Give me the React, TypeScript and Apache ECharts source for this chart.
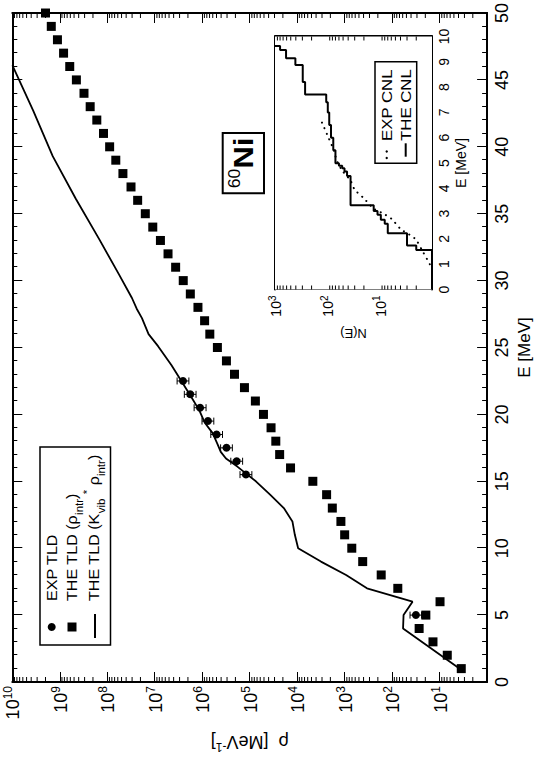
import React, { useEffect, useRef } from 'react';
import * as echarts from 'echarts';

const FONT = '"Liberation Sans", Arial, Helvetica, sans-serif';

// ---------- main panel: level density rho(E) of 60Ni ----------
// THE TLD (rho_intr) : squares
const SQUARE_E = [
  1, 2, 3, 4, 5, 6, 7, 8, 9, 10,
  11, 12, 13, 14, 15, 16, 17, 18, 19, 20,
  21, 22, 23, 24, 25, 26, 27, 28, 29, 30,
  31, 32, 33, 34, 35, 36, 37, 38, 39, 40,
  41, 42, 43, 44, 45, 46, 47, 48, 49, 50,
];
const SQUARE_RHO = [
  3.5, 6.9, 13.8, 27, 19.5, 9.8, 76, 170, 417, 708,
  1000, 1200, 1820, 2400, 4680, 1.38e4, 2.34e4, 2.82e4, 3.55e4, 5.13e4,
  7.59e4, 1.29e5, 2.09e5, 3.09e5, 4.79e5, 6.92e5, 8.91e5, 1.23e6, 1.78e6, 2.51e6,
  3.63e6, 5.25e6, 7.59e6, 1.1e7, 1.58e7, 2.29e7, 3.16e7, 4.68e7, 6.61e7, 8.91e7,
  1.2e8, 1.66e8, 2.29e8, 3.09e8, 4.47e8, 6.17e8, 8.32e8, 1.12e9, 1.51e9, 2.0e9,
];

// EXP TLD : circles with error bars
const EXP_E = [5, 15.5, 16.5, 17.5, 18.5, 19.5, 20.5, 21.5, 22.5];
const EXP_RHO = [31.6, 1.2e5, 1.88e5, 3.08e5, 4.98e5, 7.57e5, 1.11e6, 1.79e6, 2.54e6];
const EXP_LOW = [24, 9.0e4, 1.41e5, 2.32e5, 3.74e5, 5.7e5, 8.3e5, 1.35e6, 1.91e6];
const EXP_HIGH = [42, 1.6e5, 2.5e5, 4.1e5, 6.6e5, 1.01e6, 1.48e6, 2.38e6, 3.38e6];

// THE TLD (K_vib * rho_intr) : solid line
const LINE_E = [
  1.1, 4.0, 5.0, 6.0, 7.0, 8.0, 9.0, 10.0, 11.0, 12.0,
  13.0, 14.0, 15.0, 15.5, 16.1, 16.7, 17.2, 17.8, 18.6, 19.4,
  20.3, 21.3, 22.5, 23.7, 25.1, 26.0, 27.2, 27.9, 28.7, 30.5,
  33.1, 36.1, 39.3, 42.7, 46.1,
];
const LINE_RHO = [
  4.17, 58.9, 57.5, 37.2, 339, 933, 3160, 9550, 11200, 12600,
  19100, 37200, 74100, 1.12e5, 1.82e5, 3.16e5, 4.07e5, 4.79e5, 6.03e5, 8.91e5,
  1.15e6, 1.7e6, 2.75e6, 4.47e6, 8.51e6, 1.35e7, 1.86e7, 2.4e7, 3.02e7, 5.75e7,
  1.48e8, 4.57e8, 1.41e9, 3.63e9, 1.0e10,
];

// axis ranges / ticks
const E_MIN = 0, E_MAX = 50, E_STEP = 5;
const RHO_MIN = 1, RHO_MAX = 1e10;

// ---------- inset: cumulative number of levels N(E) ----------
const THE_CNL_E = [
  0, 1.56, 1.74, 2.22, 2.6, 2.76, 2.95, 3.1, 3.33, 4.49,
  4.66, 4.79, 4.89, 4.99, 5.5, 6.0, 6.5, 7.0, 7.4, 7.71,
  8.2, 8.87, 9.14, 9.47, 9.62,
];
const THE_CNL_N = [
  1, 2, 3, 7, 8, 9.5, 11, 13, 36, 42,
  47, 52, 60, 70, 77, 85, 92, 98, 105, 266,
  295, 408, 615, 800, 1000,
];
const EXP_CNL_E = [1.0, 1.5, 2.0, 2.4, 2.8, 3.0, 3.2, 3.6, 3.95, 4.3, 4.7, 5.1, 5.5, 6.0, 6.4, 6.8];
const EXP_CNL_N = [1.1, 1.5, 2.1, 4.0, 6.0, 8.5, 13, 20, 30, 36, 52, 66, 75, 95, 115, 140];

const IN_E_MIN = 0, IN_E_MAX = 10, IN_E_STEP = 1;
const IN_N_MIN = 1, IN_N_MAX = 1000;

// log minor tick values (2..9 x 10^n)
function logMinor(maxExp: number): number[] {
  const out: number[] = [];
  for (let n = 0; n < maxExp; n++) {
    for (let k = 2; k <= 9; k++) out.push(k * Math.pow(10, n));
  }
  return out;
}
const MAIN_MINOR = logMinor(10);
const INSET_MINOR = logMinor(3);

const BLACK = '#000';

function expLabel(v: number): string {
  const n = Math.round(Math.log10(v));
  if (n === 0) return '';
  return '{b|10}{s|' + n + '}';
}

function minorTickSeries(xi: number, yi: number, xMin: number, xMax: number, values: number[], len: number) {
  return {
    type: 'custom',
    xAxisIndex: xi,
    yAxisIndex: yi,
    silent: true,
    clip: false,
    z: 10,
    data: values.map((v) => [xMin, v]),
    renderItem: (_p: any, api: any) => {
      const v = api.value(1);
      const a = api.coord([xMin, v]);
      const b = api.coord([xMax, v]);
      return {
        type: 'group',
        children: [
          { type: 'line', shape: { x1: a[0], y1: a[1], x2: a[0] + len, y2: a[1] }, style: { stroke: BLACK, lineWidth: 1 } },
          { type: 'line', shape: { x1: b[0], y1: b[1], x2: b[0] - len, y2: b[1] }, style: { stroke: BLACK, lineWidth: 1 } },
        ],
      };
    },
  };
}

function valueAxis(grid: number, pos: string, min: number, max: number, step: number, minorSplit: number, major: number, minor: number, labels: any, extra: any = {}) {
  return {
    gridIndex: grid,
    type: 'value',
    position: pos,
    min,
    max,
    interval: step,
    axisLine: { show: true, onZero: false, lineStyle: { color: BLACK, width: 2 } },
    axisTick: { show: true, inside: true, length: major, lineStyle: { color: BLACK, width: 1 } },
    minorTick: { show: true, splitNumber: minorSplit, length: minor, lineStyle: { color: BLACK, width: 1 } },
    splitLine: { show: false },
    minorSplitLine: { show: false },
    axisLabel: labels,
    ...extra,
  };
}

function logAxis(grid: number, pos: string, min: number, max: number, major: number, labels: any, extra: any = {}) {
  return {
    gridIndex: grid,
    type: 'log',
    logBase: 10,
    position: pos,
    min,
    max,
    interval: 1,
    axisLine: { show: true, onZero: false, lineStyle: { color: BLACK, width: 2 } },
    axisTick: { show: true, inside: true, length: major, lineStyle: { color: BLACK, width: 1 } },
    minorTick: { show: false },
    splitLine: { show: false },
    axisLabel: labels,
    ...extra,
  };
}

export default function App() {
  const ref = useRef<HTMLDivElement>(null);

  useEffect(() => {
    if (!ref.current) return;
    const chart = echarts.init(ref.current, null, { renderer: 'svg', width: 761, height: 538 });

    const mainLogLabels = {
      show: true,
      margin: 4,
      color: BLACK,
      fontFamily: FONT,
      fontSize: 18,
      formatter: expLabel,
      rich: {
        b: { fontSize: 18, fontFamily: FONT, color: BLACK, lineHeight: 20, verticalAlign: 'bottom' },
        s: { fontSize: 12, fontFamily: FONT, color: BLACK, lineHeight: 12, verticalAlign: 'top' },
      },
    };
    const insetLogLabels = {
      show: true,
      margin: 6,
      color: BLACK,
      fontFamily: FONT,
      fontSize: 14,
      formatter: expLabel,
      rich: {
        b: { fontSize: 14, fontFamily: FONT, color: BLACK, lineHeight: 16, verticalAlign: 'bottom' },
        s: { fontSize: 10, fontFamily: FONT, color: BLACK, lineHeight: 10, verticalAlign: 'top' },
      },
    };

    const option: any = {
      animation: false,
      backgroundColor: '#fff',
      grid: [
        { left: 73.3, top: 12.3, width: 676, height: 480.4, containLabel: false },
        { left: 471.5, top: 275, width: 253, height: 157, containLabel: false, show: true, backgroundColor: '#fff', borderWidth: 0, z: 3 },
      ],
      xAxis: [
        valueAxis(0, 'bottom', E_MIN, E_MAX, E_STEP, 5, 10, 5,
          { show: true, margin: 6, color: BLACK, fontFamily: FONT, fontSize: 18 },
          {
            name: 'E [MeV]', nameLocation: 'middle', nameGap: 22,
            nameTextStyle: { fontSize: 17, color: BLACK, fontFamily: FONT },
          }),
        valueAxis(0, 'top', E_MIN, E_MAX, E_STEP, 5, 10, 5, { show: false }),
        valueAxis(1, 'bottom', IN_E_MIN, IN_E_MAX, IN_E_STEP, 3, 8, 4,
          { show: true, margin: 5, color: BLACK, fontFamily: FONT, fontSize: 14 },
          {
            name: 'E [MeV]', nameLocation: 'middle', nameGap: 22,
            nameTextStyle: { fontSize: 14, color: BLACK, fontFamily: FONT },
          }),
        valueAxis(1, 'top', IN_E_MIN, IN_E_MAX, IN_E_STEP, 3, 8, 4, { show: false }),
      ],
      yAxis: [
        logAxis(0, 'left', RHO_MIN, RHO_MAX, 10, mainLogLabels, {
          name: 'ρ  [MeV{s|-1}]', nameLocation: 'middle', nameGap: 49,
          nameTextStyle: {
            fontSize: 18, color: BLACK, fontFamily: FONT, lineHeight: 22,
            rich: { s: { fontSize: 12, fontFamily: FONT, color: BLACK, lineHeight: 11, verticalAlign: 'top' } },
          },
        }),
        logAxis(0, 'right', RHO_MIN, RHO_MAX, 10, { show: false }),
        logAxis(1, 'left', IN_N_MIN, IN_N_MAX, 9, insetLogLabels, {
          name: 'N(E)', nameLocation: 'middle', nameGap: 37,
          nameTextStyle: { fontSize: 13, color: BLACK, fontFamily: FONT },
        }),
        logAxis(1, 'right', IN_N_MIN, IN_N_MAX, 9, { show: false }),
      ],
      graphic: [
        // main legend
        { type: 'rect', z: 20, shape: { x: 116, y: 40, width: 198, height: 70.5 }, style: { fill: '#fff', stroke: BLACK, lineWidth: 1.5 } },
        { type: 'circle', z: 21, shape: { cx: 134, cy: 51.7, r: 4 }, style: { fill: BLACK } },
        { type: 'rect', z: 21, shape: { x: 129.5, y: 67.5, width: 9, height: 9 }, style: { fill: BLACK } },
        { type: 'line', z: 21, shape: { x1: 123, y1: 95, x2: 147, y2: 95 }, style: { stroke: BLACK, lineWidth: 2 } },
        {
          type: 'text', z: 21, x: 160, y: 51.7, scaleX: 1.15,
          style: { text: 'EXP TLD', fill: BLACK, fontSize: 14, fontFamily: FONT, align: 'left', verticalAlign: 'middle' },
        },
        {
          type: 'text', z: 21, x: 160, y: 72, scaleX: 1.15,
          style: {
            text: 'THE TLD (ρ{sub|intr})', fill: BLACK, fontSize: 14, fontFamily: FONT, lineHeight: 24,
            align: 'left', verticalAlign: 'middle',
            rich: { sub: { fontSize: 10, fontFamily: FONT, fill: BLACK, lineHeight: 12, verticalAlign: 'bottom' } },
          },
        },
        {
          type: 'text', z: 21, x: 160, y: 94, scaleX: 1.15,
          style: {
            text: 'THE TLD (K{sub|vib} {sup|*} ρ{sub|intr})', fill: BLACK, fontSize: 14, fontFamily: FONT, lineHeight: 24,
            align: 'left', verticalAlign: 'middle',
            rich: {
              sub: { fontSize: 10, fontFamily: FONT, fill: BLACK, lineHeight: 12, verticalAlign: 'bottom' },
              sup: { fontSize: 10, fontFamily: FONT, fill: BLACK, lineHeight: 12, verticalAlign: 'top' },
            },
          },
        },
        // 60Ni label
        { type: 'rect', z: 20, shape: { x: 567.7, y: 222.7, width: 60.3, height: 41.3 }, style: { fill: '#fff', stroke: BLACK, lineWidth: 2 } },
        {
          type: 'text', z: 21, x: 598, y: 243.3, scaleX: 1.1,
          style: {
            text: '{a|60}{b|Ni}', fill: BLACK, align: 'center', verticalAlign: 'middle',
            rich: {
              a: { fontSize: 16, fontFamily: FONT, fill: BLACK, lineHeight: 10, verticalAlign: 'top' },
              b: { fontSize: 28, fontWeight: 'bold', fontFamily: FONT, fill: BLACK, lineHeight: 34 },
            },
          },
        },
        // inset legend
        { type: 'rect', z: 20, shape: { x: 597.7, y: 375, width: 101.6, height: 41.7 }, style: { fill: '#fff', stroke: BLACK, lineWidth: 1.5 } },
        { type: 'circle', z: 21, shape: { cx: 603, cy: 386.7, r: 1.2 }, style: { fill: BLACK } },
        { type: 'circle', z: 21, shape: { cx: 609.5, cy: 386.7, r: 1.2 }, style: { fill: BLACK } },
        { type: 'line', z: 21, shape: { x1: 604.3, y1: 405.7, x2: 617.7, y2: 405.7 }, style: { stroke: BLACK, lineWidth: 2 } },
        {
          type: 'text', z: 21, x: 620, y: 386.7, scaleX: 1.2,
          style: { text: 'EXP CNL', fill: BLACK, fontSize: 14, fontFamily: FONT, align: 'left', verticalAlign: 'middle' },
        },
        {
          type: 'text', z: 21, x: 620, y: 405.7, scaleX: 1.2,
          style: { text: 'THE CNL', fill: BLACK, fontSize: 14, fontFamily: FONT, align: 'left', verticalAlign: 'middle' },
        },
      ],
      series: [
        {
          type: 'line', name: 'THE TLD (Kvib * rho_intr)', xAxisIndex: 0, yAxisIndex: 0,
          data: LINE_E.map((e, i) => [e, LINE_RHO[i]]),
          showSymbol: false, symbol: 'none', clip: true,
          lineStyle: { color: BLACK, width: 1.8 }, z: 4,
        },
        {
          type: 'scatter', name: 'THE TLD (rho_intr)', xAxisIndex: 0, yAxisIndex: 0,
          data: SQUARE_E.map((e, i) => [e, SQUARE_RHO[i]]),
          symbol: 'rect', symbolSize: 9, itemStyle: { color: BLACK, opacity: 1 }, z: 5,
        },
        {
          type: 'custom', name: 'EXP TLD errors', xAxisIndex: 0, yAxisIndex: 0, z: 5,
          data: EXP_E.map((e, i) => [e, EXP_LOW[i], EXP_HIGH[i]]),
          encode: { x: 0, y: [1, 2] },
          renderItem: (_p: any, api: any) => {
            const e = api.value(0);
            const lo = api.coord([e, api.value(1)]);
            const hi = api.coord([e, api.value(2)]);
            const w = 3.5;
            const st = { stroke: BLACK, lineWidth: 1 };
            return {
              type: 'group',
              children: [
                { type: 'line', shape: { x1: lo[0], y1: lo[1], x2: hi[0], y2: hi[1] }, style: st },
                { type: 'line', shape: { x1: lo[0] - w, y1: lo[1], x2: lo[0] + w, y2: lo[1] }, style: st },
                { type: 'line', shape: { x1: hi[0] - w, y1: hi[1], x2: hi[0] + w, y2: hi[1] }, style: st },
              ],
            };
          },
        },
        {
          type: 'scatter', name: 'EXP TLD', xAxisIndex: 0, yAxisIndex: 0,
          data: EXP_E.map((e, i) => [e, EXP_RHO[i]]),
          symbol: 'circle', symbolSize: 8, itemStyle: { color: BLACK, opacity: 1 }, z: 6,
        },
        minorTickSeries(0, 0, E_MIN, E_MAX, MAIN_MINOR, 5),
        {
          type: 'line', name: 'EXP CNL', xAxisIndex: 2, yAxisIndex: 2,
          data: EXP_CNL_E.map((e, i) => [e, EXP_CNL_N[i]]),
          showSymbol: false, symbol: 'none', smooth: 0.3,
          lineStyle: { color: BLACK, width: 2, type: [0.1, 6], cap: 'round' }, z: 6,
        },
        {
          type: 'line', name: 'THE CNL', xAxisIndex: 2, yAxisIndex: 2,
          data: THE_CNL_E.map((e, i) => [e, THE_CNL_N[i]]),
          showSymbol: false, symbol: 'none', step: 'end',
          lineStyle: { color: BLACK, width: 2 }, z: 6,
        },
        minorTickSeries(2, 2, IN_E_MIN, IN_E_MAX, INSET_MINOR, 4),
      ],
    };

    chart.setOption(option);
    return () => chart.dispose();
  }, []);

  return (
    <div style={{ position: 'absolute', left: 0, top: 0, width: 538, height: 761, overflow: 'hidden', background: '#fff' }}>
      <div
        ref={ref}
        style={{
          position: 'absolute',
          left: 0,
          top: 0,
          width: 761,
          height: 538,
          transformOrigin: '0 0',
          transform: 'translateY(761px) rotate(-90deg)',
        }}
      />
    </div>
  );
}
